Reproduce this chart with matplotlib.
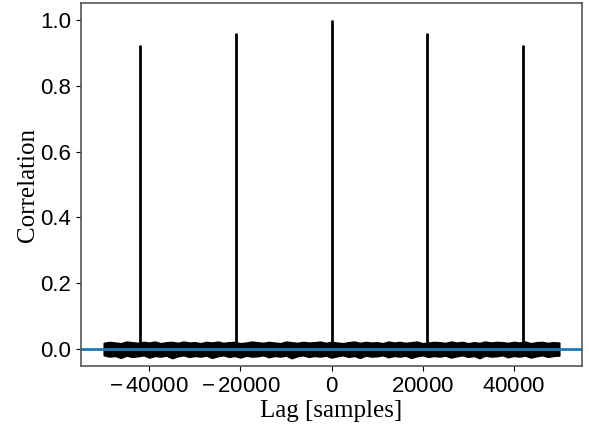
import numpy as np
import matplotlib.pyplot as plt
from matplotlib.ticker import FuncFormatter

plt.rcParams['mathtext.fontset'] = 'custom'
plt.rcParams['mathtext.rm'] = 'Liberation Sans'

# Main correlation peaks (lag in samples, correlation)
peak_lags = [-42100, -21050, 0, 21050, 42100]
peak_vals = [0.924, 0.960, 1.000, 0.960, 0.924]

# Envelope of the noise floor, every 1250 samples
noise_lags = np.arange(-50000, 50001, 1250)
noise_hi = [0.018, 0.021, 0.019, 0.017, 0.022, 0.020, 0.018, 0.021, 0.019, 0.022,
            0.017, 0.020, 0.021, 0.018, 0.022, 0.019, 0.020, 0.017, 0.021, 0.019,
            0.022, 0.018, 0.020, 0.021, 0.017, 0.019, 0.022, 0.020, 0.018, 0.021,
            0.019, 0.017, 0.022, 0.020, 0.018, 0.021, 0.019, 0.020, 0.022, 0.018,
            0.021, 0.019, 0.017, 0.020, 0.022, 0.018, 0.021, 0.019, 0.020, 0.017,
            0.022, 0.019, 0.021, 0.018, 0.020, 0.022, 0.017, 0.019, 0.021, 0.020,
            0.018, 0.022, 0.019, 0.021, 0.017, 0.020, 0.018, 0.022, 0.019, 0.021,
            0.020, 0.018, 0.021, 0.019, 0.022, 0.017, 0.020, 0.021, 0.018, 0.020,
            0.019]
noise_lo = [-0.019, -0.023, -0.021, -0.027, -0.020, -0.024, -0.022, -0.019, -0.026, -0.021,
            -0.023, -0.020, -0.028, -0.022, -0.019, -0.024, -0.021, -0.023, -0.020, -0.027,
            -0.022, -0.019, -0.024, -0.021, -0.026, -0.020, -0.023, -0.022, -0.019, -0.025,
            -0.021, -0.023, -0.020, -0.028, -0.022, -0.019, -0.024, -0.021, -0.023, -0.020,
            -0.026, -0.022, -0.019, -0.024, -0.021, -0.027, -0.020, -0.023, -0.022, -0.019,
            -0.025, -0.021, -0.023, -0.020, -0.027, -0.022, -0.019, -0.024, -0.021, -0.023,
            -0.020, -0.026, -0.022, -0.019, -0.024, -0.021, -0.028, -0.020, -0.023, -0.022,
            -0.019, -0.025, -0.021, -0.023, -0.020, -0.026, -0.022, -0.019, -0.024, -0.021,
            -0.020]

fig = plt.figure(figsize=(5.89, 4.44), dpi=100)
ax = fig.add_axes([81 / 589, 78 / 444, 501 / 589, 363 / 444])

# noise floor of the correlation
ax.fill_between(noise_lags, noise_lo, noise_hi, color='black', lw=1.2,
                edgecolor='black')
# peaks
ax.vlines(peak_lags, 0, peak_vals, color='black', lw=2)
ax.axhline(0, color='#1f77b4', lw=2)

ax.set_xlim(-55000, 55000)
ax.set_ylim(-0.052, 1.052)
ax.set_xticks([-40000, -20000, 0, 20000, 40000])
ax.set_yticks([0.0, 0.2, 0.4, 0.6, 0.8, 1.0])


def lag_fmt(v, pos):
    if v < 0:
        return r'$\mathregular{-\,%d}$' % abs(v)
    return r'$\mathregular{%d}$' % v


ax.xaxis.set_major_formatter(FuncFormatter(lag_fmt))
ax.yaxis.set_major_formatter(FuncFormatter(lambda v, p: '%.1f' % v))

for lab in ax.get_xticklabels() + ax.get_yticklabels():
    lab.set_fontfamily('Liberation Sans')
    lab.set_fontsize(16)

ax.set_xlabel('Lag [samples]', family='Liberation Serif', fontsize=18, labelpad=2)
ax.set_ylabel('Correlation', family='Liberation Serif', fontsize=18, labelpad=1)

for sp in ax.spines.values():
    sp.set_color('#555555')
    sp.set_linewidth(1.2)

fig.savefig('out.png', dpi=100)
